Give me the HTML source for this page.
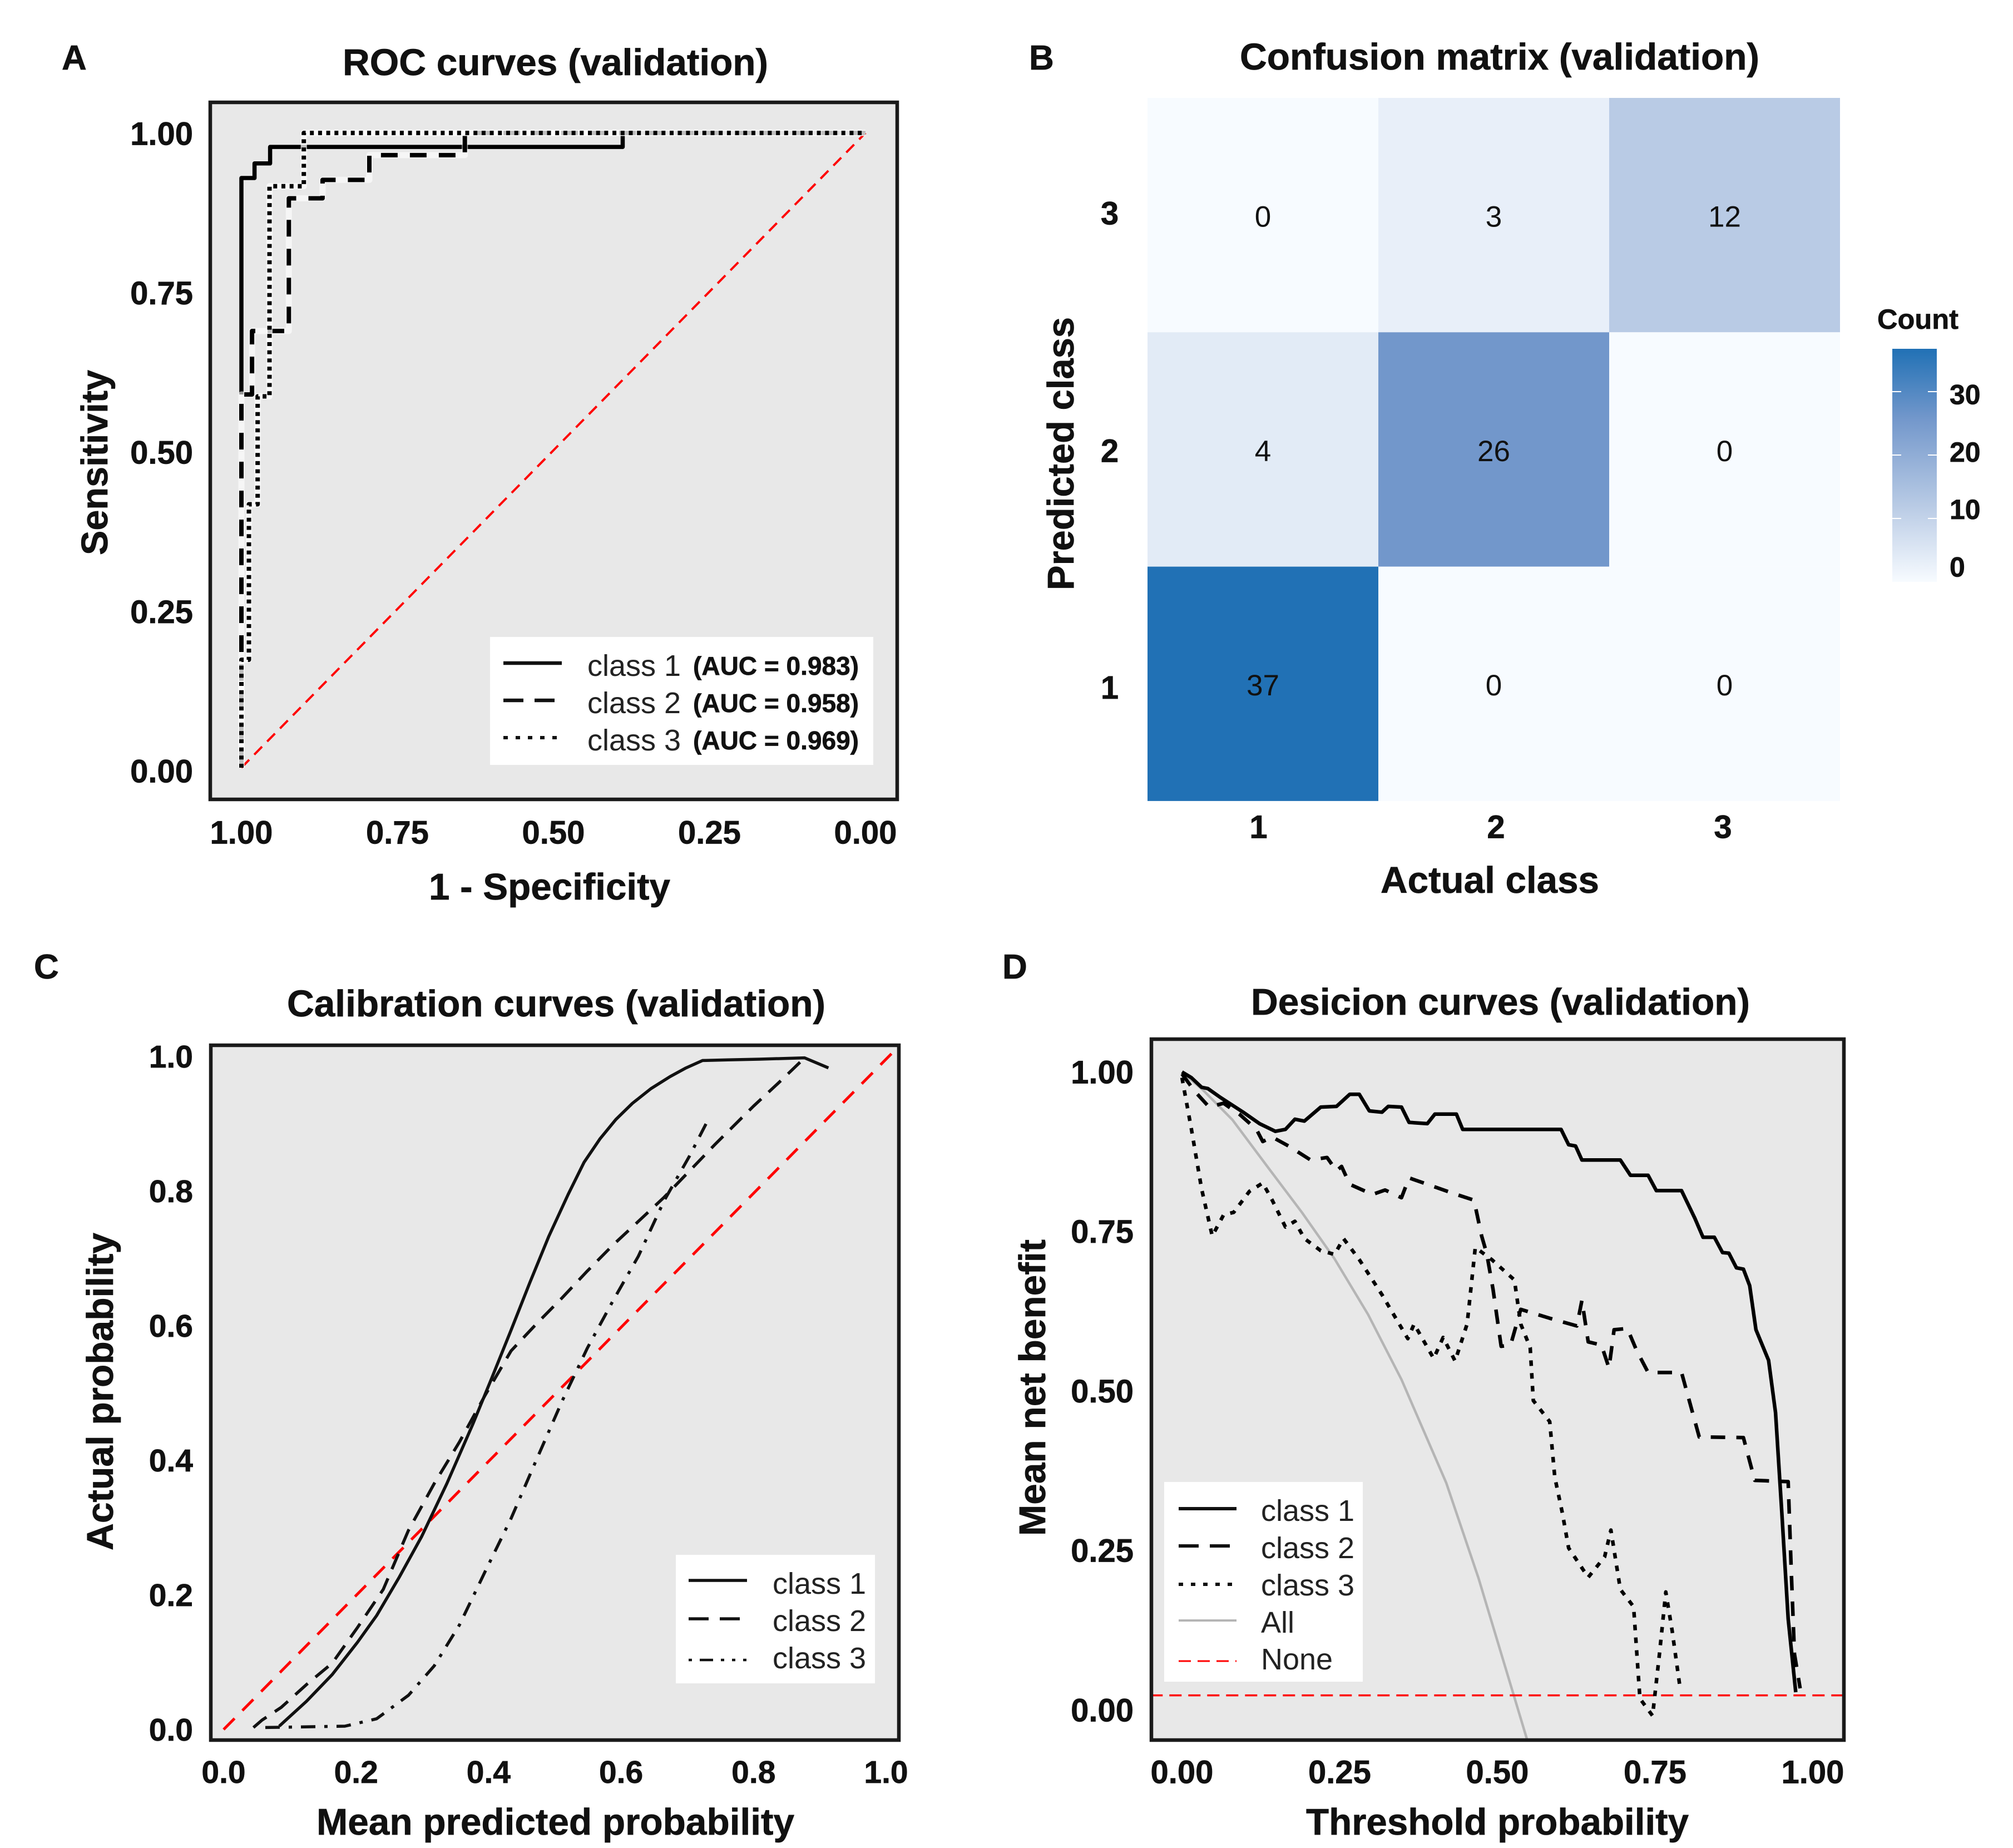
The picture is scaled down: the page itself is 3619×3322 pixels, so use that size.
<!DOCTYPE html>
<html lang="en">
<head>
<meta charset="utf-8">
<title>Validation model performance panels</title>
<style>
html,body{margin:0;padding:0;background:#fff;}
svg{display:block;}
text{font-family:"Liberation Sans",Arial,sans-serif;fill:#111;}
.b{font-weight:bold;stroke:#111;stroke-width:0.7px;}
.leg{fill:#222;font-size:54px;}
</style>
</head>
<body>
<svg id="chart" xmlns="http://www.w3.org/2000/svg" width="3619" height="3322" viewBox="0 0 3619 3322">
<defs>
<linearGradient id="cbar" x1="0" y1="1" x2="0" y2="0"></linearGradient>
<clipPath id="clipC"><rect x="379" y="1879" width="1237" height="1249"/></clipPath>
<clipPath id="clipD"><rect x="2070" y="1868" width="1245" height="1260"/></clipPath>
</defs>
<rect width="3619" height="3322" fill="#fff"/>

<!-- Panel A -->
<g id="panelA">
<text class="b" x="111" y="125" font-size="62">A</text>
<text class="b" x="616" y="135" font-size="67" textLength="765" lengthAdjust="spacingAndGlyphs">ROC curves (validation)</text>
<rect x="378" y="184" width="1235" height="1253" fill="#e8e8e8"/>
<g id="roc-marks"></g>
<rect x="378" y="184" width="1235" height="1253" fill="none" stroke="#1a1a1a" stroke-width="6.5"/>
<g id="roc-ticks"></g>
<text class="b" transform="translate(193,998) rotate(-90)" font-size="67" textLength="333" lengthAdjust="spacingAndGlyphs">Sensitivity</text>
<text class="b" x="771" y="1617" font-size="67" textLength="434" lengthAdjust="spacingAndGlyphs">1 - Specificity</text>
<g>
<rect x="881" y="1145" width="689" height="230" fill="#fff"/>
<line x1="905" y1="1192" x2="1010" y2="1192" stroke="#111" stroke-width="6.5"/>
<line x1="905" y1="1259" x2="1010" y2="1259" stroke="#111" stroke-width="6.5" stroke-dasharray="36 20"/>
<line x1="905" y1="1326" x2="1010" y2="1326" stroke="#111" stroke-width="6" stroke-dasharray="8 14"/>
<text class="leg" x="1056" y="1215">class 1</text>
<text class="leg" x="1056" y="1282">class 2</text>
<text class="leg" x="1056" y="1349">class 3</text>
<text class="b" x="1246" y="1213" font-size="46" textLength="298" lengthAdjust="spacingAndGlyphs">(AUC = 0.983)</text>
<text class="b" x="1246" y="1280" font-size="46" textLength="298" lengthAdjust="spacingAndGlyphs">(AUC = 0.958)</text>
<text class="b" x="1246" y="1347" font-size="46" textLength="298" lengthAdjust="spacingAndGlyphs">(AUC = 0.969)</text>
</g>
</g>

<!-- Panel B -->
<g id="panelB">
<text class="b" x="1850" y="125" font-size="62">B</text>
<text class="b" x="2229" y="125" font-size="67" textLength="934" lengthAdjust="spacingAndGlyphs">Confusion matrix (validation)</text>
<g id="heatmap"></g>
<text class="b" transform="translate(1930,1061) rotate(-90)" font-size="67" textLength="491" lengthAdjust="spacingAndGlyphs">Predicted class</text>
<text class="b" x="2482" y="1605" font-size="67" textLength="393" lengthAdjust="spacingAndGlyphs">Actual class</text>
<text class="b" x="3375" y="591" font-size="50" textLength="146" lengthAdjust="spacingAndGlyphs">Count</text>
<rect x="3402" y="627" width="80" height="419" fill="url(#cbar)"/>
<g id="colorbar-ticks"></g>
</g>

<!-- Panel C -->
<g id="panelC">
<text class="b" x="61" y="1759" font-size="62">C</text>
<text class="b" x="516" y="1827" font-size="67" textLength="968" lengthAdjust="spacingAndGlyphs">Calibration curves (validation)</text>
<rect x="379" y="1879" width="1237" height="1249" fill="#e8e8e8"/>
<g id="cal-marks" clip-path="url(#clipC)"></g>
<rect x="379" y="1879" width="1237" height="1249" fill="none" stroke="#1a1a1a" stroke-width="6.5"/>
<g id="cal-ticks"></g>
<text class="b" transform="translate(203,2787) rotate(-90)" font-size="67" textLength="571" lengthAdjust="spacingAndGlyphs">Actual probability</text>
<text class="b" x="569" y="3298" font-size="67" textLength="859" lengthAdjust="spacingAndGlyphs">Mean predicted probability</text>
<g>
<rect x="1215" y="2795" width="358" height="231" fill="#fff"/>
<line x1="1238" y1="2841" x2="1343" y2="2841" stroke="#111" stroke-width="5.5"/>
<line x1="1238" y1="2910" x2="1343" y2="2910" stroke="#111" stroke-width="5.5" stroke-dasharray="36 20"/>
<line x1="1238" y1="2984" x2="1343" y2="2984" stroke="#111" stroke-width="4.5" stroke-dasharray="6 14 24 14 6 14 6 14"/>
<text class="leg" x="1389" y="2865">class 1</text>
<text class="leg" x="1389" y="2932">class 2</text>
<text class="leg" x="1389" y="2999">class 3</text>
</g>
</g>

<!-- Panel D -->
<g id="panelD">
<text class="b" x="1802" y="1759" font-size="62">D</text>
<text class="b" x="2249" y="1824" font-size="67" textLength="897" lengthAdjust="spacingAndGlyphs">Desicion curves (validation)</text>
<rect x="2070" y="1868" width="1245" height="1260" fill="#e8e8e8"/>
<g id="dca-marks" clip-path="url(#clipD)"></g>
<rect x="2070" y="1868" width="1245" height="1260" fill="none" stroke="#1a1a1a" stroke-width="6.5"/>
<g id="dca-ticks"></g>
<text class="b" transform="translate(1879,2761) rotate(-90)" font-size="67" textLength="533" lengthAdjust="spacingAndGlyphs">Mean net benefit</text>
<text class="b" x="2348" y="3298" font-size="67" textLength="688" lengthAdjust="spacingAndGlyphs">Threshold probability</text>
<g>
<rect x="2093" y="2664" width="357" height="359" fill="#fff"/>
<line x1="2119" y1="2712" x2="2223" y2="2712" stroke="#111" stroke-width="6"/>
<line x1="2119" y1="2779" x2="2223" y2="2779" stroke="#111" stroke-width="6" stroke-dasharray="36 20"/>
<line x1="2119" y1="2848" x2="2223" y2="2848" stroke="#111" stroke-width="6" stroke-dasharray="8 14"/>
<line x1="2119" y1="2913" x2="2223" y2="2913" stroke="#b5b5b5" stroke-width="4"/>
<line x1="2119" y1="2986" x2="2223" y2="2986" stroke="#f00" stroke-width="3" stroke-dasharray="22 12"/>
<text class="leg" x="2267" y="2734">class 1</text>
<text class="leg" x="2267" y="2801">class 2</text>
<text class="leg" x="2267" y="2868">class 3</text>
<text class="leg" x="2267" y="2935">All</text>
<text class="leg" x="2267" y="3001">None</text>
</g>
</g>
</svg>

<script>
/* ---------- ROC data ---------- */
const rocTicks = [1.00, 0.75, 0.50, 0.25, 0.00];
const rocTickLabels = ['1.00', '0.75', '0.50', '0.25', '0.00'];
const rocDiagSpec = [1, 0];
const rocDiagSens = [0, 1];
const rocClass1Spec = [1.0, 1.0, 0.979, 0.979, 0.954, 0.954, 0.389, 0.389, 0];
const rocClass1Sens = [0.588, 0.929, 0.929, 0.952, 0.952, 0.978, 0.978, 1, 1];
const rocClass2Spec = [1, 1, 0.983, 0.983, 0.924, 0.924, 0.870, 0.870, 0.795, 0.795, 0.642, 0.642, 0];
const rocClass2Sens = [0, 0.588, 0.588, 0.688, 0.688, 0.897, 0.897, 0.926, 0.926, 0.965, 0.965, 1, 1];
const rocClass3Spec = [1, 1, 0.988, 0.988, 0.974, 0.974, 0.955, 0.955, 0.900, 0.900, 0];
const rocClass3Sens = [0, 0.17, 0.17, 0.415, 0.415, 0.585, 0.585, 0.916, 0.916, 1, 1];

/* ---------- Confusion matrix data ---------- */
const actualClasses = ['1', '2', '3'];
const predictedClasses = ['3', '2', '1'];
const confusionCounts = [[0, 3, 12], [4, 26, 0], [37, 0, 0]];
const colorStopCounts = [0, 12, 26, 37];
const colorStopColors = ['#f7fbff', '#b9cbe5', '#7297cb', '#2171b5'];
const colorbarTicks = [30, 20, 10, 0];
const colorbarLabels = ['30', '20', '10', '0'];

/* ---------- Calibration data ---------- */
const calTicks = [0, 0.2, 0.4, 0.6, 0.8, 1.0];
const calTickLabels = ['0.0', '0.2', '0.4', '0.6', '0.8', '1.0'];
const calRefX = [0, 1.02];
const calRefY = [0, 1.02];
const calClass1X = [0.084,0.125,0.164,0.202,0.231,0.265,0.299,0.337,0.376,0.405,0.434,0.462,0.491,0.520,0.544,0.568,0.592,0.617,0.645,0.674,0.698,0.723,0.761,0.809,0.877,0.913];
const calClass1Y = [0.005,0.042,0.082,0.130,0.170,0.227,0.288,0.367,0.455,0.525,0.596,0.666,0.736,0.798,0.846,0.881,0.910,0.934,0.956,0.974,0.987,0.998,0.999,1.0,1.002,0.987];
const calClass2X = [0.045,0.058,0.087,0.125,0.164,0.202,0.241,0.279,0.318,0.356,0.395,0.434,0.472,0.511,0.549,0.588,0.626,0.665,0.703,0.742,0.800,0.838,0.875];
const calClass2Y = [0.003,0.014,0.033,0.067,0.099,0.152,0.209,0.297,0.367,0.429,0.499,0.565,0.605,0.644,0.684,0.723,0.758,0.794,0.833,0.873,0.930,0.965,1.0];
const calClass3X = [0.063,0.183,0.231,0.279,0.318,0.356,0.395,0.434,0.472,0.511,0.549,0.588,0.626,0.665,0.703,0.729];
const calClass3Y = [0.003,0.005,0.016,0.051,0.095,0.156,0.236,0.315,0.402,0.490,0.569,0.640,0.706,0.789,0.855,0.905];

/* ---------- Decision curve data ---------- */
const dcaTicks = [0, 0.25, 0.5, 0.75, 1.0];
const dcaTickLabels = ['0.00', '0.25', '0.50', '0.75', '1.00'];
const dcaNoneX = [-0.05, 1.05];
const dcaNoneY = [0.023, 0.023];
const dcaAllX = [0,0.034,0.08,0.139,0.19,0.242,0.295,0.348,0.419,0.47,0.526,0.547];
const dcaAllY = [1,0.971,0.925,0.847,0.78,0.707,0.62,0.518,0.356,0.207,0.023,-0.046];
const dcaClass1X = [0,0.015,0.031,0.041,0.061,0.097,0.123,0.148,0.164,0.179,0.194,0.220,0.245,0.266,0.281,0.297,0.317,0.327,0.348,0.360,0.389,0.401,0.435,0.445,0.601,0.613,0.624,0.634,0.695,0.711,0.739,0.752,0.792,0.813,0.826,0.844,0.857,0.867,0.879,0.890,0.900,0.910,0.930,0.941,0.951,0.961,0.973];
const dcaClass1Y = [1.0,0.991,0.976,0.974,0.960,0.937,0.919,0.907,0.910,0.926,0.923,0.945,0.946,0.965,0.965,0.939,0.937,0.946,0.945,0.921,0.919,0.934,0.934,0.910,0.910,0.886,0.884,0.862,0.862,0.838,0.838,0.814,0.814,0.771,0.741,0.741,0.717,0.716,0.693,0.691,0.665,0.596,0.548,0.466,0.309,0.143,0.028];
const dcaClass2X = [0,0.020,0.043,0.066,0.092,0.118,0.128,0.143,0.169,0.204,0.230,0.245,0.253,0.266,0.302,0.322,0.348,0.360,0.389,0.429,0.463,0.475,0.483,0.493,0.506,0.521,0.537,0.583,0.626,0.634,0.644,0.665,0.677,0.685,0.706,0.721,0.739,0.792,0.820,0.890,0.908,0.961,0.966,0.971,0.980];
const dcaClass2Y = [0.997,0.970,0.945,0.951,0.933,0.910,0.891,0.898,0.884,0.862,0.866,0.845,0.852,0.824,0.808,0.815,0.803,0.834,0.824,0.810,0.799,0.743,0.716,0.660,0.570,0.572,0.628,0.614,0.602,0.642,0.577,0.572,0.536,0.596,0.598,0.563,0.529,0.529,0.428,0.427,0.360,0.358,0.217,0.088,0.034];
const dcaClass3X = [0,0.015,0.031,0.048,0.066,0.082,0.107,0.128,0.143,0.164,0.179,0.194,0.220,0.242,0.256,0.281,0.317,0.358,0.368,0.399,0.414,0.433,0.452,0.465,0.491,0.527,0.537,0.552,0.557,0.583,0.591,0.603,0.613,0.644,0.670,0.680,0.695,0.716,0.726,0.746,0.757,0.767,0.777,0.790];
const dcaClass3Y = [0.991,0.910,0.817,0.743,0.776,0.780,0.813,0.826,0.799,0.757,0.766,0.739,0.720,0.714,0.739,0.706,0.651,0.582,0.605,0.551,0.584,0.547,0.605,0.725,0.706,0.674,0.605,0.568,0.485,0.452,0.365,0.309,0.254,0.208,0.240,0.282,0.189,0.162,0.018,-0.009,0.088,0.185,0.125,0.032];

/* ---------- Axis functions ---------- */
const rocX = v => 434 + (1 - v) * 1122;
const rocY = v => 1380 - v * 1141;
const rocLabelY = v => 1386 - v * 1146;
const calX = v => 402 + v * 1191;
const calY = v => 3109 - v * 1205;
const calLabelY = v => 3109 - v * 1210;
const dcaX = v => 2125 + v * 1134;
const dcaY = v => 3074 - v * 1147;
const cellX = i => 2063 + i * 415;
const cellY = j => 176 + j * 421.3;
const cbarTickY = v => 1046 - v * 11.4;
const cbarLabelY = v => 1019 - v * 10.33;

const NS = 'http://www.w3.org/2000/svg';
function mk(tag, parent, name) {
  const el = document.createElementNS(NS, tag);
  
  
  parent.appendChild(el);
  return el;
}
function curve(parent, name, xs, ys, sx, sy, stroke, width, dash, extra) {
  const p = mk('path', parent, name);
  let d = '';
  for (let i = 0; i < xs.length; i++) {
    d += (i ? 'L' : 'M') + sx(xs[i]).toFixed(1) + ' ' + sy(ys[i]).toFixed(1);
  }
  p.setAttribute('d', d);
  p.setAttribute('fill', 'none');
  p.setAttribute('stroke', stroke);
  p.setAttribute('stroke-width', width);
  p.setAttribute('stroke-linejoin', 'round');
  if (dash) p.setAttribute('stroke-dasharray', dash);
  if (extra) p.setAttribute('opacity', extra);
  return p;
}
function label(parent, name, str, x, yCenter, size, anchor, bold) {
  const t = mk('text', parent, name);
  t.setAttribute('x', x);
  t.setAttribute('y', (yCenter + size * 0.35).toFixed(1));
  t.setAttribute('font-size', size);
  t.setAttribute('text-anchor', anchor);
  if (bold) t.setAttribute('class', 'b');
  t.textContent = str;
  return t;
}

/* ---------- Panel A ---------- */
const rm = document.getElementById('roc-marks');
curve(rm, 'roc-reference-diagonal', rocDiagSpec, rocDiagSens, rocX, rocY, '#f00', 4, '20 13');
curve(rm, 'roc-class-1-curve', rocClass1Spec, rocClass1Sens, rocX, rocY, '#000', 7.5);
curve(rm, 'roc-class-2-halo', rocClass2Spec, rocClass2Sens, rocX, rocY, '#fff', 11, null, '0.6');
curve(rm, 'roc-class-2-curve', rocClass2Spec, rocClass2Sens, rocX, rocY, '#000', 8, '30 22');
curve(rm, 'roc-class-3-halo', rocClass3Spec, rocClass3Sens, rocX, rocY, '#fff', 11, null, '0.75');
curve(rm, 'roc-class-3-curve', rocClass3Spec, rocClass3Sens, rocX, rocY, '#000', 8, '7 7.7');
const rt = document.getElementById('roc-ticks');
rocTicks.forEach((v, i) => {
  label(rt, 'roc-y-tick-label', rocTickLabels[i], 347, rocLabelY(v), 58, 'end', true);
  label(rt, 'roc-x-tick-label', rocTickLabels[i], rocX(v), 1496, 58, 'middle', true);
});

/* ---------- Panel B ---------- */
function hexToRgb(h) {
  return [1, 3, 5].map(k => parseInt(h.slice(k, k + 2), 16));
}
function countColor(v) {
  let i = 0;
  while (i < colorStopCounts.length - 2 && v > colorStopCounts[i + 1]) i++;
  const t = (v - colorStopCounts[i]) / (colorStopCounts[i + 1] - colorStopCounts[i]);
  const a = hexToRgb(colorStopColors[i]);
  const b = hexToRgb(colorStopColors[i + 1]);
  const c = a.map((q, k) => Math.round(q + (b[k] - q) * t));
  return 'rgb(' + c.join(',') + ')';
}
const hm = document.getElementById('heatmap');
confusionCounts.forEach((row, j) => {
  row.forEach((count, i) => {
    const r = mk('rect', hm, 'heatmap-cell');
    r.setAttribute('x', cellX(i));
    r.setAttribute('y', cellY(j));
    r.setAttribute('width', 415);
    r.setAttribute('height', 421.3);
    r.setAttribute('fill', countColor(count));
  });
});
confusionCounts.forEach((row, j) => {
  row.forEach((count, i) => {
    label(hm, 'heatmap-cell-count', String(count), cellX(i) + 207.5, cellY(j) + 210 + (j === 0 ? 3 : 3), 53, 'middle', false);
  });
});
predictedClasses.forEach((c, j) => {
  label(hm, 'confusion-y-tick-label', c, 1995, cellY(j) + 210 + (j === 0 ? -3 : j === 1 ? 3 : 7), 58, 'middle', true);
});
actualClasses.forEach((c, i) => {
  label(hm, 'confusion-x-tick-label', c, cellX(i) + 207.5 - (i === 0 ? 8 : i === 2 ? 3 : -4), 1486, 58, 'middle', true);
});
const grad = document.getElementById('cbar');
colorStopCounts.forEach((v, i) => {
  const s = document.createElementNS(NS, 'stop');
  s.setAttribute('offset', v / 37);
  s.setAttribute('stop-color', colorStopColors[i]);
  grad.appendChild(s);
});
const cbt = document.getElementById('colorbar-ticks');
colorbarTicks.forEach((v, i) => {
  if (v > 0) {
    const a = mk('line', cbt, 'colorbar-tick-left');
    a.setAttribute('x1', 3402);
    a.setAttribute('x2', 3418);
    a.setAttribute('y1', cbarTickY(v));
    a.setAttribute('y2', cbarTickY(v));
    a.setAttribute('stroke', '#fff');
    a.setAttribute('stroke-width', 2);
    const b = mk('line', cbt, 'colorbar-tick-right');
    b.setAttribute('x1', 3466);
    b.setAttribute('x2', 3482);
    b.setAttribute('y1', cbarTickY(v));
    b.setAttribute('y2', cbarTickY(v));
    b.setAttribute('stroke', '#fff');
    b.setAttribute('stroke-width', 2);
  }
  label(cbt, 'colorbar-tick-label', colorbarLabels[i], 3505, cbarLabelY(v), 50, 'start', true);
});

/* ---------- Panel C ---------- */
const cm = document.getElementById('cal-marks');
curve(cm, 'calibration-reference-line', calRefX, calRefY, calX, calY, '#f00', 5, '28 20');
curve(cm, 'calibration-class-1-curve', calClass1X, calClass1Y, calX, calY, '#111', 5.5);
curve(cm, 'calibration-class-2-curve', calClass2X, calClass2Y, calX, calY, '#111', 5.5, '30 18');
curve(cm, 'calibration-class-3-curve', calClass3X, calClass3Y, calX, calY, '#111', 5.5, '26 16 6 16');
const ct = document.getElementById('cal-ticks');
calTicks.forEach((v, i) => {
  label(ct, 'calibration-y-tick-label', calTickLabels[i], 347, calLabelY(v), 57, 'end', true);
  label(ct, 'calibration-x-tick-label', calTickLabels[i], calX(v), 3185, 57, 'middle', true);
});

/* ---------- Panel D ---------- */
const dm = document.getElementById('dca-marks');
curve(dm, 'decision-all-curve', dcaAllX, dcaAllY, dcaX, dcaY, '#b5b5b5', 4.5);
curve(dm, 'decision-none-line', dcaNoneX, dcaNoneY, dcaX, dcaY, '#f00', 3.5, '22 12');
curve(dm, 'decision-class-1-curve', dcaClass1X, dcaClass1Y, dcaX, dcaY, '#000', 6.5);
curve(dm, 'decision-class-2-curve', dcaClass2X, dcaClass2Y, dcaX, dcaY, '#000', 6.5, '26 20');
curve(dm, 'decision-class-3-curve', dcaClass3X, dcaClass3Y, dcaX, dcaY, '#000', 6.5, '10 13');
const dt = document.getElementById('dca-ticks');
dcaTicks.forEach((v, i) => {
  label(dt, 'decision-x-tick-label', dcaTickLabels[i], dcaX(v), 3185, 58, 'middle', true);
  label(dt, 'decision-y-tick-label', dcaTickLabels[i], 2038, dcaY(v), 58, 'end', true);
});
</script>
</body>
</html>
